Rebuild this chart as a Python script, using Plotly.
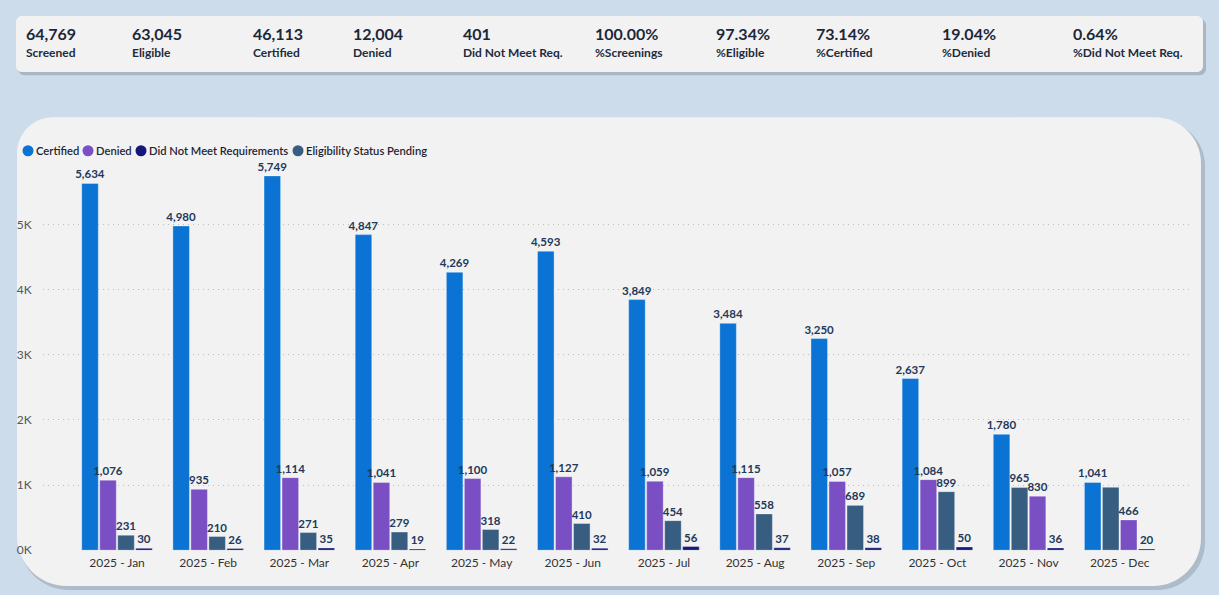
import plotly.graph_objects as go

W, H = 1219, 603
REF_H = 595  # reference picture height; layout positions below are read from it

months = ["2025 - Jan", "2025 - Feb", "2025 - Mar", "2025 - Apr", "2025 - May", "2025 - Jun",
          "2025 - Jul", "2025 - Aug", "2025 - Sep", "2025 - Oct", "2025 - Nov", "2025 - Dec"]
certified = [5634, 4980, 5749, 4847, 4269, 4593, 3849, 3484, 3250, 2637, 1780, 1041]
denied = [1076, 935, 1114, 1041, 1100, 1127, 1059, 1115, 1057, 1084, 830, 466]
not_met = [30, 26, 35, 19, 22, 32, 56, 37, 38, 50, 36, 20]
pending = [231, 210, 271, 279, 318, 410, 454, 558, 689, 899, 965, 967]

series_names = ["Certified", "Denied", "Did Not Meet Requirements", "Eligibility Status Pending"]
series_colors = ["#0b73d3", "#7a4fc4", "#13187a", "#375d80"]
series_values = [certified, denied, not_met, pending]

# labels Power BI dropped because they collide
hidden_labels = {("2025 - Dec", "Eligibility Status Pending")}

kpi_values = ["64,769", "63,045", "46,113", "12,004", "401",
              "100.00%", "97.34%", "73.14%", "19.04%", "0.64%"]
kpi_labels = ["Screened", "Eligible", "Certified", "Denied", "Did Not Meet Req.",
              "%Screenings", "%Eligible", "%Certified", "%Denied", "%Did Not Meet Req."]
kpi_x = [24, 130, 251, 351, 461, 593, 714, 814, 940, 1071]

FONT = "Lato"
LABEL_COLOR = "#23395b"
BG = "#ccdcea"


def px(x):
    return x / W


def py(y):
    return 1 - y / REF_H


def rounded_path(x0, y0, x1, y1, r):
    # r = (top-left, top-right, bottom-right, bottom-left) in pixels
    k = 0.4477
    tl, tr, br, bl = r
    pts = [
        f"M{px(x0 + tl)},{py(y0)}",
        f"L{px(x1 - tr)},{py(y0)}",
        f"C{px(x1 - tr * k)},{py(y0)} {px(x1)},{py(y0 + tr * k)} {px(x1)},{py(y0 + tr)}",
        f"L{px(x1)},{py(y1 - br)}",
        f"C{px(x1)},{py(y1 - br * k)} {px(x1 - br * k)},{py(y1)} {px(x1 - br)},{py(y1)}",
        f"L{px(x0 + bl)},{py(y1)}",
        f"C{px(x0 + bl * k)},{py(y1)} {px(x0)},{py(y1 - bl * k)} {px(x0)},{py(y1 - bl)}",
        f"L{px(x0)},{py(y0 + tl)}",
        f"C{px(x0)},{py(y0 + tl * k)} {px(x0 + tl * k)},{py(y0)} {px(x0 + tl)},{py(y0)}",
        "Z",
    ]
    return " ".join(pts)


def card(x0, y0, x1, y1, r, color):
    return dict(type="path", xref="paper", yref="paper", path=rounded_path(x0, y0, x1, y1, r),
                fillcolor=color, line_width=0, layer="below")


fig = go.Figure()

# Power BI orders the bars inside each month by value, so draw them by rank
for rank in range(4):
    ys, cols, txt = [], [], []
    for i, m in enumerate(months):
        items = sorted(zip([v[i] for v in series_values], series_names, series_colors),
                       key=lambda t: -t[0])
        val, name, col = items[rank]
        ys.append(val)
        cols.append(col)
        txt.append("" if (m, name) in hidden_labels else f"{val:,}")
    fig.add_trace(go.Bar(
        x=months, y=ys, text=txt, textposition="outside", constraintext="none",
        cliponaxis=False, showlegend=False,
        textfont=dict(family=FONT, size=11.5, color=LABEL_COLOR, weight=700),
        marker=dict(color=cols, line=dict(color="rgba(255,255,255,0.35)", width=1)),
        hovertemplate="%{x}: %{y:,}<extra></extra>",
    ))

shapes = [
    card(18, 19, 1206, 75, (6, 6, 6, 6), "#a9b6c4"),
    card(16, 16, 1203, 72, (6, 6, 6, 6), "#f2f2f2"),
    card(19, 120, 1205, 589, (36, 46, 48, 50), "#aebbc9"),
    card(17, 117, 1201, 585, (36, 46, 48, 50), "#f2f2f2"),
]

annotations = []
for xv, val, lab in zip(kpi_x, kpi_values, kpi_labels):
    annotations.append(dict(x=px(xv), y=py(33), xref="paper", yref="paper", text=val,
                            showarrow=False, xanchor="left", yanchor="middle",
                            font=dict(family=FONT, size=16, color="#1d2738", weight=700)))
    annotations.append(dict(x=px(xv), y=py(52), xref="paper", yref="paper", text=lab,
                            showarrow=False, xanchor="left", yanchor="middle",
                            font=dict(family=FONT, size=12, color="#222b3c", weight=700)))

# legend drawn by hand to match the compact Power BI spacing
legend_dot_x = [28, 88, 141, 298]
for name, col, cx in zip(series_names, series_colors, legend_dot_x):
    shapes.append(dict(type="circle", xref="paper", yref="paper",
                       x0=px(cx - 5.5), x1=px(cx + 5.5), y0=py(156), y1=py(145),
                       fillcolor=col, line_width=0))
    annotations.append(dict(x=px(cx + 6), y=py(150.5), xref="paper", yref="paper", text=name,
                            showarrow=False, xanchor="left", yanchor="middle",
                            font=dict(family=FONT, size=11.2, color="#1f2533", weight=600)))

fig.update_layout(
    width=W, height=H,
    margin=dict(l=0, r=0, t=0, b=0),
    paper_bgcolor=BG,
    plot_bgcolor="rgba(0,0,0,0)",
    barmode="group", bargap=0.21, bargroupgap=0.08,
    shapes=shapes, annotations=annotations,
    font=dict(family=FONT),
    xaxis=dict(domain=[px(43), px(1192)], range=[-0.812, 11.793], showgrid=False,
               showline=False, zeroline=False, ticks="outside", ticklen=1,
               tickcolor="rgba(0,0,0,0)", tickfont=dict(family=FONT, size=12, color="#333333")),
    yaxis=dict(domain=[py(549.3), py(165)], range=[0, 5912],
               tickvals=[0, 1000, 2000, 3000, 4000, 5000],
               ticktext=["0K", "1K", "2K", "3K", "4K", "5K"],
               showgrid=True, gridcolor="#bdbdbd", griddash="1px,4px", gridwidth=1,
               zeroline=False, showline=False, ticks="outside", ticklen=8,
               tickcolor="rgba(0,0,0,0)", tickfont=dict(family=FONT, size=12, color="#555555")),
)

page_fix = (
    f"document.documentElement.style.cssText='margin:0;padding:0;overflow:hidden;background:{BG}';"
    f"document.body.style.cssText='margin:0;padding:0;overflow:hidden;background:{BG}';"
)
fig.write_html("out.html", config={"displayModeBar": False}, post_script=page_fix)
